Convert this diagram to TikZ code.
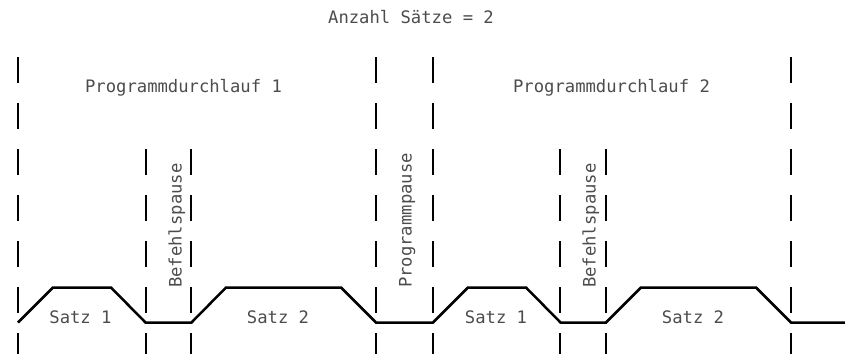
\documentclass[tikz,border=0pt]{standalone}
\usepackage{fontspec}
\newfontfamily\plotfont{DejaVu Sans Mono}
\begin{document}
\begin{tikzpicture}[x=1bp,y=-1bp,
  guide/.style={line width=2bp, dash pattern=on 26bp off 20bp},
  wave/.style={line width=2.5bp, line join=miter},
  lbl/.style={font=\plotfont\fontsize{17.2bp}{20bp}\selectfont, text=black!70, inner sep=0pt, anchor=base},
  vlbl/.style={lbl, anchor=base west, rotate=90},
]
\useasboundingbox (0,0) rectangle (845,354);
% dashed guide lines
\foreach \n/\x/\t in {a/18/57, b/146/149, c/191/149, d/376/57, e/433/57, f/560/149, g/606/149, h/791/57} {
  \coordinate (\n top) at (\x,\t);
  \coordinate (\n bot) at (\x,354);
  \draw[guide] (\n top) -- (\n bot);
}
% waveform
\coordinate (w0) at (18,322.5);
\coordinate (w1) at (53,287.5);
\coordinate (w2) at (111,287.5);
\coordinate (w3) at (145.5,322.5);
\coordinate (w4) at (191.5,322.5);
\coordinate (w5) at (226,287.5);
\coordinate (w6) at (341,287.5);
\coordinate (w7) at (376,322.5);
\coordinate (w8) at (433,322.5);
\coordinate (w9) at (468,287.5);
\coordinate (w10) at (526,287.5);
\coordinate (w11) at (560.5,322.5);
\coordinate (w12) at (606,322.5);
\coordinate (w13) at (641,287.5);
\coordinate (w14) at (756,287.5);
\coordinate (w15) at (791,322.5);
\coordinate (w16) at (845,322.5);
\draw[wave] (w0) -- (w1) -- (w2) -- (w3) -- (w4) -- (w5) -- (w6) -- (w7) -- (w8)
  -- (w9) -- (w10) -- (w11) -- (w12) -- (w13) -- (w14) -- (w15) -- (w16);
% labels
\node[lbl] (title) at (411,23) {Anzahl Sätze = 2};
\node[lbl] (pd1) at (183.5,92.5) {Programmdurchlauf 1};
\node[lbl] (pd2) at (611.5,92.5) {Programmdurchlauf 2};
\node[lbl] (s11) at (80.5,323) {Satz 1};
\node[lbl] (s12) at (278,323) {Satz 2};
\node[lbl] (s21) at (496,323) {Satz 1};
\node[lbl] (s22) at (693,323) {Satz 2};
\node[vlbl] (bp1) at (181.5,288) {Befehlspause};
\node[vlbl] (pp) at (411.5,288) {Programmpause};
\node[vlbl] (bp2) at (595.5,288) {Befehlspause};
\end{tikzpicture}
\end{document}
